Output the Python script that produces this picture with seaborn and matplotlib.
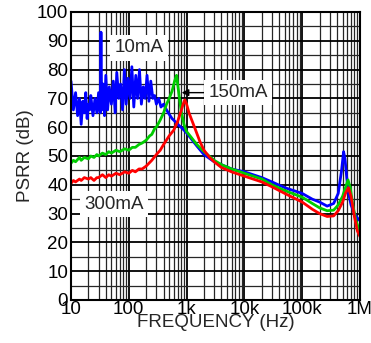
import numpy as np
import pandas as pd
import matplotlib
matplotlib.use("Agg")
import matplotlib.pyplot as plt
import seaborn as sns
from matplotlib.ticker import FixedLocator, NullFormatter

# ── Données ───────────────────────────────────────────────────────────────────
freq_10ma = [10, 11, 12, 13, 14, 15, 16, 17, 18, 19, 20, 21, 22, 24, 26, 28, 30,
             32, 33, 34, 36, 38, 40, 43, 46, 50, 54, 58, 62, 67, 72, 78, 84, 90,
             97, 105, 113, 122, 132, 142, 153, 165, 178, 192, 207, 223, 240, 260,
             280, 300, 330, 360, 400, 450, 500, 560, 630, 700, 800, 900, 1000,
             1200, 1500, 2000, 3000, 4000, 6000, 10000, 20000, 30000, 50000,
             100000, 150000, 200000, 270000, 350000, 420000, 480000, 520000,
             550000, 580000, 620000, 700000, 800000, 900000, 1000000]
psrr_10ma = [76, 66, 72, 64, 70, 61, 69, 65, 72, 63, 68, 66, 71, 64, 70, 65, 72,
             65, 93, 66, 75, 64, 78, 66, 74, 68, 76, 65, 79, 70, 75, 66, 80, 68,
             77, 70, 81, 67, 78, 70, 80, 68, 74, 70, 78, 69, 76, 70, 71, 68, 70,
             67, 68, 66, 64.5, 63, 62, 61, 60, 59, 58, 56, 53.5, 50.5, 48, 47,
             45.5, 44.5, 42.5, 41, 39, 37, 35, 34, 32.6, 33.5, 37, 45, 51.5, 49,
             44, 38, 33, 30, 28.5, 27.5]

freq_150ma = [10, 11, 12, 14, 15, 17, 20, 22, 25, 28, 30, 35, 40, 45, 50, 60, 70,
              85, 100, 115, 130, 150, 170, 200, 230, 250, 280, 300, 350, 400, 450,
              500, 560, 620, 670, 720, 800, 900, 1000, 1200, 1500, 2000, 3000,
              4000, 6000, 10000, 20000, 30000, 50000, 100000, 150000, 200000,
              270000, 350000, 420000, 500000, 560000, 620000, 680000, 750000,
              850000, 1000000]
psrr_150ma = [47.5, 48.5, 48, 49.5, 48.5, 49.5, 49, 50, 49.5, 50.5, 50, 51, 50.5,
              51.5, 51, 52, 51.5, 52.5, 52, 53, 53, 54, 54.5, 55.5, 57, 57.5,
              59.5, 60, 62.5, 65, 68, 70, 72.5, 76, 78, 73, 66, 61, 58.5, 56.5,
              54, 51.5, 48.5, 47, 45.5, 44, 42, 40, 38, 35.7, 33.5, 32, 31, 31.2,
              33, 36, 39, 41.7, 39, 33, 27.5, 23.7]

freq_300ma = [10, 11, 12, 14, 15, 17, 20, 22, 25, 28, 30, 35, 40, 45, 50, 60, 70,
              85, 100, 115, 130, 150, 170, 200, 250, 300, 350, 400, 500, 600, 700,
              800, 870, 930, 1000, 1100, 1200, 1400, 1700, 2000, 2500, 3000, 4000,
              6000, 10000, 20000, 30000, 50000, 100000, 150000, 200000, 270000,
              350000, 420000, 500000, 560000, 630000, 700000, 800000, 900000,
              1000000]
psrr_300ma = [40.5, 41.5, 41, 42, 41.5, 42.5, 42, 42.5, 41.5, 42.5, 42.5, 43.5,
              42.5, 43.5, 43, 44, 43.5, 44.5, 44, 45, 44.5, 45.5, 45.5, 46.5, 48.5,
              50.5, 52, 54, 57, 59, 62, 65.5, 68, 69.5, 68, 65, 63, 59.5, 55, 52,
              49.5, 48, 46, 44.5, 43, 41, 39.3, 37, 34, 31.5, 30, 29, 29.2, 31,
              34, 37, 39, 36, 29, 24, 22]

series_labels = ["10mA", "150mA", "300mA"]
series_colors = ["#0000ff", "#00cc00", "#ff0000"]

x_ticks = [10, 100, 1000, 10000, 100000, 1000000]
x_tick_labels = ["10", "100", "1k", "10k", "100k", "1M"]
y_ticks = list(range(0, 101, 10))

df = pd.concat([
    pd.DataFrame({"freq": freq_10ma, "psrr": psrr_10ma, "serie": "10mA"}),
    pd.DataFrame({"freq": freq_150ma, "psrr": psrr_150ma, "serie": "150mA"}),
    pd.DataFrame({"freq": freq_300ma, "psrr": psrr_300ma, "serie": "300mA"}),
], ignore_index=True)

# ── Figure ────────────────────────────────────────────────────────────────────
sns.set_style("white")
plt.rcParams["font.family"] = ["Liberation Sans", "DejaVu Sans"]

fig = plt.figure(figsize=(3.71, 3.43), dpi=100)
ax = fig.add_axes([71 / 371, 43 / 343, 289 / 371, 288 / 343])

ax.set_xscale("log")
ax.set_xlim(10, 1e6)
ax.set_ylim(0, 100)

# grille : majeures (décades / 10 dB) et mineures (2..9 / 5 dB)
minor_x = [m * 10 ** d for d in range(1, 6) for m in range(2, 10)]
ax.xaxis.set_minor_locator(FixedLocator(minor_x))
ax.xaxis.set_minor_formatter(NullFormatter())
ax.yaxis.set_minor_locator(FixedLocator(list(range(5, 100, 10))))
ax.grid(which="major", color="black", lw=1.3)
ax.grid(which="minor", color="0.15", lw=0.9)
ax.set_axisbelow(True)

sns.lineplot(data=df, x="freq", y="psrr", hue="serie", hue_order=series_labels,
             palette=series_colors, lw=2, legend=False, ax=ax, sort=False,
             estimator=None)

ax.set_xticks(x_ticks)
ax.set_xticklabels(x_tick_labels)
ax.set_yticks(y_ticks)
ax.tick_params(axis="both", which="both", length=0, labelsize=13.5, colors="black")
ax.tick_params(axis="x", pad=1)
ax.tick_params(axis="y", pad=2)
for s in ax.spines.values():
    s.set_color("black")
    s.set_linewidth(1.5)

ax.set_xlabel("FREQUENCY (Hz)", fontsize=13.5, labelpad=-3)
ax.set_ylabel("PSRR (dB)", fontsize=13.5, labelpad=2)

box = dict(facecolor="white", edgecolor="none", pad=3)
ax.text(150, 87.5, "10mA", fontsize=13.5, ha="center", va="center", bbox=box)
ax.text(55, 33.3, "300mA", fontsize=13.5, ha="center", va="center", bbox=box)
ax.annotate("150mA", xy=(820, 72), xytext=(7800, 72), fontsize=13.5,
            ha="center", va="center", bbox=box,
            arrowprops=dict(arrowstyle="-|>", color="black", lw=1,
                            mutation_scale=10, shrinkA=0, shrinkB=0))

fig.savefig("out.png", dpi=100)
